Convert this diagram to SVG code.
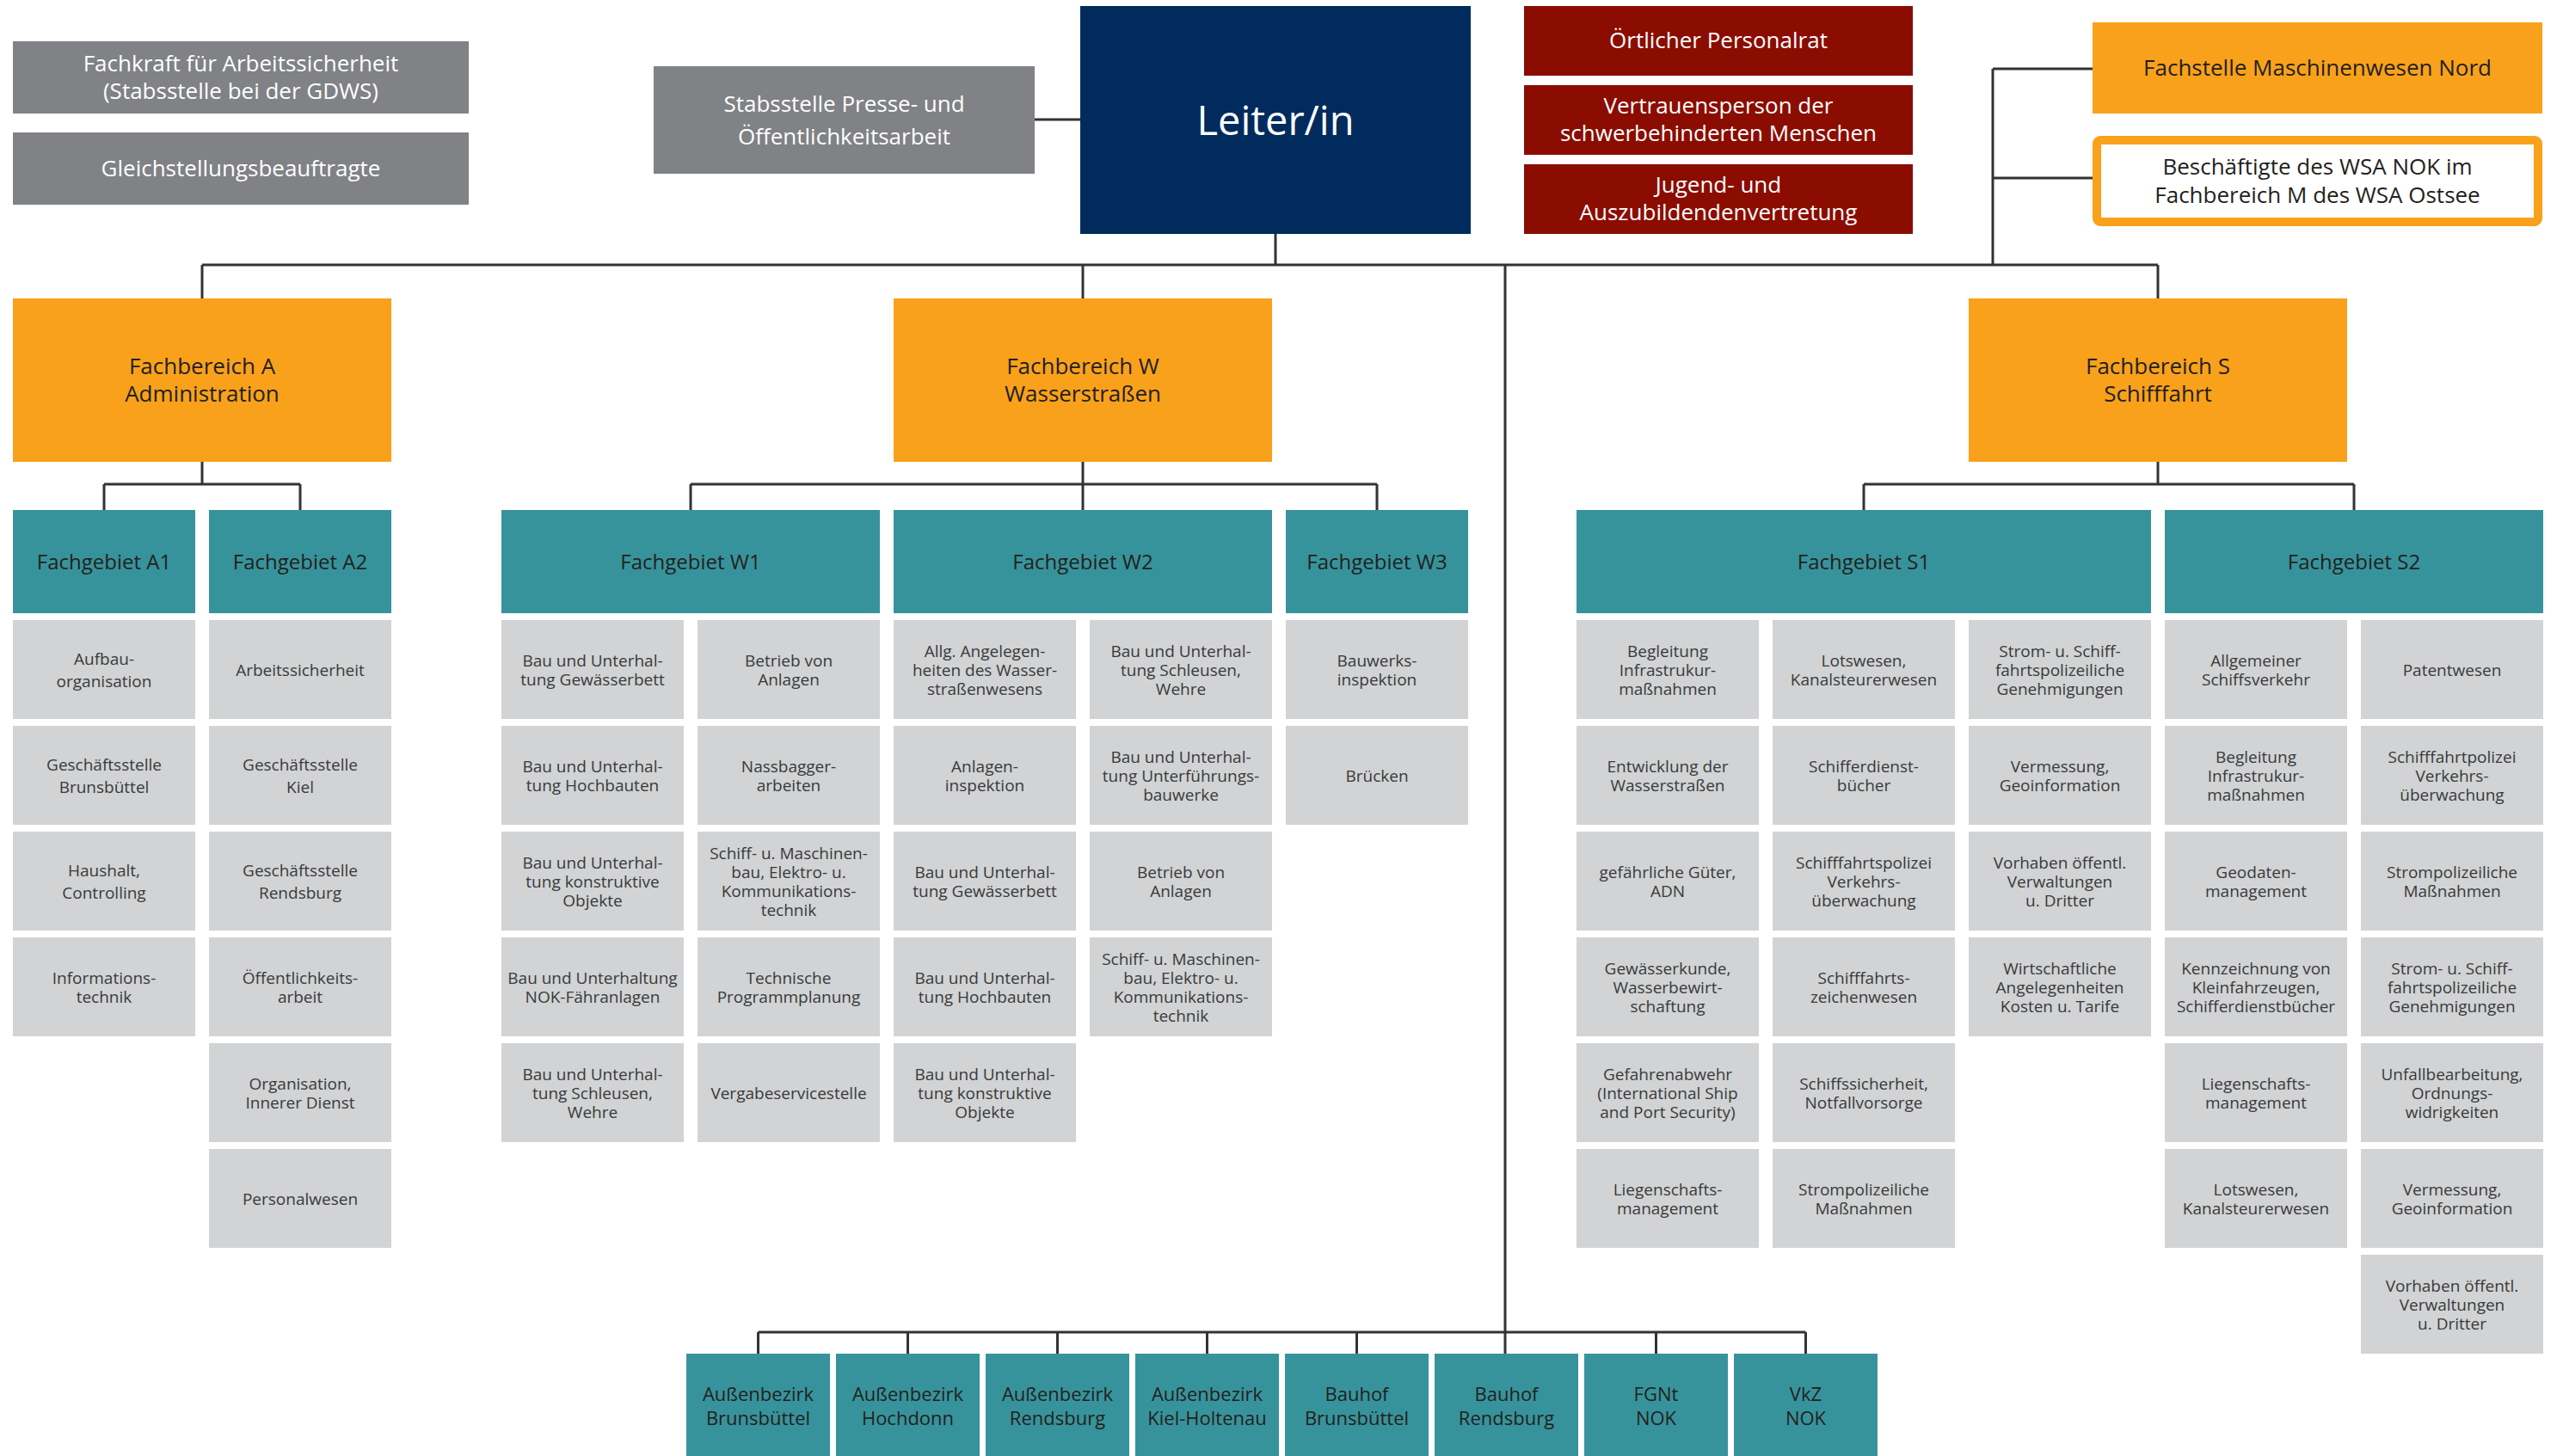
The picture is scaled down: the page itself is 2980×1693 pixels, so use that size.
<svg xmlns="http://www.w3.org/2000/svg" width="2980" height="1693" viewBox="0 0 2980 1693">
<style>
.gr{fill:#808285}.lead{fill:#012b5c}.red{fill:#8b0d02}.or{fill:#f9a11b}.teal{fill:#37939b}.it{fill:#d1d3d4}
.conn line{stroke:#333;stroke-width:3;fill:none}
text{font-family:"Open Sans","Noto Sans","Liberation Sans",sans-serif;text-anchor:middle}
.tw{fill:#fff;font-size:26px}.tl{fill:#fff;font-size:47px}.td{fill:#231f20;font-size:26px}
.th{fill:#231f20;font-size:24px}.ti{fill:#3a3a3a;font-size:19px}.tb{fill:#231f20;font-size:22px}
</style>
<rect width="2980" height="1693" fill="#fff"/>
<g class="conn" id="connectors">
<line x1="1203" y1="139" x2="1256" y2="139"/>
<line x1="2317" y1="80" x2="2317" y2="308"/>
<line x1="2317" y1="80" x2="2433" y2="80"/>
<line x1="2317" y1="207" x2="2433" y2="207"/>
<line x1="1483" y1="272" x2="1483" y2="308"/>
<line x1="235" y1="308" x2="2509" y2="308"/>
<line x1="235" y1="308" x2="235" y2="347"/>
<line x1="1259" y1="308" x2="1259" y2="347"/>
<line x1="2509" y1="308" x2="2509" y2="347"/>
<line x1="1750" y1="308" x2="1750" y2="1574"/>
<line x1="235" y1="537" x2="235" y2="563"/>
<line x1="121" y1="563" x2="349" y2="563"/>
<line x1="121" y1="563" x2="121" y2="593"/>
<line x1="349" y1="563" x2="349" y2="593"/>
<line x1="1259" y1="537" x2="1259" y2="593"/>
<line x1="803" y1="563" x2="1601" y2="563"/>
<line x1="803" y1="563" x2="803" y2="593"/>
<line x1="1601" y1="563" x2="1601" y2="593"/>
<line x1="2509" y1="537" x2="2509" y2="563"/>
<line x1="2167" y1="563" x2="2737" y2="563"/>
<line x1="2167" y1="563" x2="2167" y2="593"/>
<line x1="2737" y1="563" x2="2737" y2="593"/>
<line x1="881.5" y1="1549" x2="2099.5" y2="1549"/>
<line x1="881.5" y1="1549" x2="881.5" y2="1574"/>
<line x1="1055.5" y1="1549" x2="1055.5" y2="1574"/>
<line x1="1229.5" y1="1549" x2="1229.5" y2="1574"/>
<line x1="1403.5" y1="1549" x2="1403.5" y2="1574"/>
<line x1="1577.5" y1="1549" x2="1577.5" y2="1574"/>
<line x1="1925.5" y1="1549" x2="1925.5" y2="1574"/>
<line x1="2099.5" y1="1549" x2="2099.5" y2="1574"/>
</g>
<g id="fachkraft"><rect class="gr" x="15" y="48" width="530" height="84"/><text class="tw" x="280" y="83">Fachkraft für Arbeitssicherheit<tspan x="280" dy="32">(Stabsstelle bei der GDWS)</tspan></text></g>
<g id="gleichstellung"><rect class="gr" x="15" y="154" width="530" height="84"/><text class="tw" x="280" y="205">Gleichstellungsbeauftragte</text></g>
<g id="presse"><rect class="gr" x="760" y="77" width="443" height="125"/><text class="tw" x="981.5" y="130">Stabsstelle Presse- und<tspan x="981.5" dy="38">Öffentlichkeitsarbeit</tspan></text></g>
<g id="leiter"><rect class="lead" x="1256" y="7" width="454" height="265"/><text class="tl" x="1483" y="157">Leiter/in</text></g>
<g id="personalrat"><rect class="red" x="1772" y="7" width="452" height="81"/><text class="tw" x="1998" y="56">Örtlicher Personalrat</text></g>
<g id="vertrauensperson"><rect class="red" x="1772" y="99" width="452" height="81"/><text class="tw" x="1998" y="132">Vertrauensperson der<tspan x="1998" dy="32">schwerbehinderten Menschen</tspan></text></g>
<g id="jav"><rect class="red" x="1772" y="191" width="452" height="81"/><text class="tw" x="1998" y="224">Jugend- und<tspan x="1998" dy="32">Auszubildendenvertretung</tspan></text></g>
<g id="fachstelle"><rect class="or" x="2433" y="26" width="523" height="106"/><text class="td" x="2694.5" y="88">Fachstelle Maschinenwesen Nord</text></g>
<g id="beschaeftigte"><rect x="2438" y="163" width="513" height="95" rx="4" fill="#fff" stroke="#f9a11b" stroke-width="10"/><text class="td" x="2694.5" y="203">Beschäftigte des WSA NOK im<tspan x="2694.5" dy="33">Fachbereich M des WSA Ostsee</tspan></text></g>
<g id="fb-a"><rect class="or" x="15" y="347" width="440" height="190"/><text class="td" x="235" y="435">Fachbereich A<tspan x="235" dy="32">Administration</tspan></text></g>
<g id="fb-w"><rect class="or" x="1039" y="347" width="440" height="190"/><text class="td" x="1259" y="435">Fachbereich W<tspan x="1259" dy="32">Wasserstraßen</tspan></text></g>
<g id="fb-s"><rect class="or" x="2289" y="347" width="440" height="190"/><text class="td" x="2509" y="435">Fachbereich S<tspan x="2509" dy="32">Schifffahrt</tspan></text></g>
<g id="fg-a1"><rect class="teal" x="15" y="593" width="212" height="120"/><text class="th" x="121" y="662">Fachgebiet A1</text></g>
<g id="fg-a2"><rect class="teal" x="243" y="593" width="212" height="120"/><text class="th" x="349" y="662">Fachgebiet A2</text></g>
<g id="fg-w1"><rect class="teal" x="583" y="593" width="440" height="120"/><text class="th" x="803" y="662">Fachgebiet W1</text></g>
<g id="fg-w2"><rect class="teal" x="1039" y="593" width="440" height="120"/><text class="th" x="1259" y="662">Fachgebiet W2</text></g>
<g id="fg-w3"><rect class="teal" x="1495" y="593" width="212" height="120"/><text class="th" x="1601" y="662">Fachgebiet W3</text></g>
<g id="fg-s1"><rect class="teal" x="1833" y="593" width="668" height="120"/><text class="th" x="2167" y="662">Fachgebiet S1</text></g>
<g id="fg-s2"><rect class="teal" x="2517" y="593" width="440" height="120"/><text class="th" x="2737" y="662">Fachgebiet S2</text></g>
<!-- A1 -->
<g id="a1-1"><rect class="it" x="15" y="721" width="212" height="115"/><text class="ti" x="121" y="772.5">Aufbau-<tspan x="121" dy="26">organisation</tspan></text></g>
<g id="a1-2"><rect class="it" x="15" y="844" width="212" height="115"/><text class="ti" x="121" y="895.5">Geschäftsstelle<tspan x="121" dy="26">Brunsbüttel</tspan></text></g>
<g id="a1-3"><rect class="it" x="15" y="967" width="212" height="115"/><text class="ti" x="121" y="1018.5">Haushalt,<tspan x="121" dy="26">Controlling</tspan></text></g>
<g id="a1-4"><rect class="it" x="15" y="1090" width="212" height="115"/><text class="ti" x="121" y="1143.5">Informations-<tspan x="121" dy="22">technik</tspan></text></g>
<!-- A2 -->
<g id="a2-1"><rect class="it" x="243" y="721" width="212" height="115"/><text class="ti" x="349" y="785.5">Arbeitssicherheit</text></g>
<g id="a2-2"><rect class="it" x="243" y="844" width="212" height="115"/><text class="ti" x="349" y="895.5">Geschäftsstelle<tspan x="349" dy="26">Kiel</tspan></text></g>
<g id="a2-3"><rect class="it" x="243" y="967" width="212" height="115"/><text class="ti" x="349" y="1018.5">Geschäftsstelle<tspan x="349" dy="26">Rendsburg</tspan></text></g>
<g id="a2-4"><rect class="it" x="243" y="1090" width="212" height="115"/><text class="ti" x="349" y="1143.5">Öffentlichkeits-<tspan x="349" dy="22">arbeit</tspan></text></g>
<g id="a2-5"><rect class="it" x="243" y="1213" width="212" height="115"/><text class="ti" x="349" y="1266.5">Organisation,<tspan x="349" dy="22">Innerer Dienst</tspan></text></g>
<g id="a2-6"><rect class="it" x="243" y="1336" width="212" height="115"/><text class="ti" x="349" y="1400.5">Personalwesen</text></g>
<!-- W1 col1 -->
<g id="w1-1"><rect class="it" x="583" y="721" width="212" height="115"/><text class="ti" x="689" y="774.5">Bau und Unterhal-<tspan x="689" dy="22">tung Gewässerbett</tspan></text></g>
<g id="w1-2"><rect class="it" x="583" y="844" width="212" height="115"/><text class="ti" x="689" y="897.5">Bau und Unterhal-<tspan x="689" dy="22">tung Hochbauten</tspan></text></g>
<g id="w1-3"><rect class="it" x="583" y="967" width="212" height="115"/><text class="ti" x="689" y="1009.5">Bau und Unterhal-<tspan x="689" dy="22">tung konstruktive</tspan><tspan x="689" dy="22">Objekte</tspan></text></g>
<g id="w1-4"><rect class="it" x="583" y="1090" width="212" height="115"/><text class="ti" x="689" y="1143.5">Bau und Unterhaltung<tspan x="689" dy="22">NOK-Fähranlagen</tspan></text></g>
<g id="w1-5"><rect class="it" x="583" y="1213" width="212" height="115"/><text class="ti" x="689" y="1255.5">Bau und Unterhal-<tspan x="689" dy="22">tung Schleusen,</tspan><tspan x="689" dy="22">Wehre</tspan></text></g>
<!-- W1 col2 -->
<g id="w1-6"><rect class="it" x="811" y="721" width="212" height="115"/><text class="ti" x="917" y="774.5">Betrieb von<tspan x="917" dy="22">Anlagen</tspan></text></g>
<g id="w1-7"><rect class="it" x="811" y="844" width="212" height="115"/><text class="ti" x="917" y="897.5">Nassbagger-<tspan x="917" dy="22">arbeiten</tspan></text></g>
<g id="w1-8"><rect class="it" x="811" y="967" width="212" height="115"/><text class="ti" x="917" y="998.5">Schiff- u. Maschinen-<tspan x="917" dy="22">bau, Elektro- u.</tspan><tspan x="917" dy="22">Kommunikations-</tspan><tspan x="917" dy="22">technik</tspan></text></g>
<g id="w1-9"><rect class="it" x="811" y="1090" width="212" height="115"/><text class="ti" x="917" y="1143.5">Technische<tspan x="917" dy="22">Programmplanung</tspan></text></g>
<g id="w1-10"><rect class="it" x="811" y="1213" width="212" height="115"/><text class="ti" x="917" y="1277.5">Vergabeservicestelle</text></g>
<!-- W2 col1 -->
<g id="w2-1"><rect class="it" x="1039" y="721" width="212" height="115"/><text class="ti" x="1145" y="763.5">Allg. Angelegen-<tspan x="1145" dy="22">heiten des Wasser-</tspan><tspan x="1145" dy="22">straßenwesens</tspan></text></g>
<g id="w2-2"><rect class="it" x="1039" y="844" width="212" height="115"/><text class="ti" x="1145" y="897.5">Anlagen-<tspan x="1145" dy="22">inspektion</tspan></text></g>
<g id="w2-3"><rect class="it" x="1039" y="967" width="212" height="115"/><text class="ti" x="1145" y="1020.5">Bau und Unterhal-<tspan x="1145" dy="22">tung Gewässerbett</tspan></text></g>
<g id="w2-4"><rect class="it" x="1039" y="1090" width="212" height="115"/><text class="ti" x="1145" y="1143.5">Bau und Unterhal-<tspan x="1145" dy="22">tung Hochbauten</tspan></text></g>
<g id="w2-5"><rect class="it" x="1039" y="1213" width="212" height="115"/><text class="ti" x="1145" y="1255.5">Bau und Unterhal-<tspan x="1145" dy="22">tung konstruktive</tspan><tspan x="1145" dy="22">Objekte</tspan></text></g>
<!-- W2 col2 -->
<g id="w2-6"><rect class="it" x="1267" y="721" width="212" height="115"/><text class="ti" x="1373" y="763.5">Bau und Unterhal-<tspan x="1373" dy="22">tung Schleusen,</tspan><tspan x="1373" dy="22">Wehre</tspan></text></g>
<g id="w2-7"><rect class="it" x="1267" y="844" width="212" height="115"/><text class="ti" x="1373" y="886.5">Bau und Unterhal-<tspan x="1373" dy="22">tung Unterführungs-</tspan><tspan x="1373" dy="22">bauwerke</tspan></text></g>
<g id="w2-8"><rect class="it" x="1267" y="967" width="212" height="115"/><text class="ti" x="1373" y="1020.5">Betrieb von<tspan x="1373" dy="22">Anlagen</tspan></text></g>
<g id="w2-9"><rect class="it" x="1267" y="1090" width="212" height="115"/><text class="ti" x="1373" y="1121.5">Schiff- u. Maschinen-<tspan x="1373" dy="22">bau, Elektro- u.</tspan><tspan x="1373" dy="22">Kommunikations-</tspan><tspan x="1373" dy="22">technik</tspan></text></g>
<!-- W3 -->
<g id="w3-1"><rect class="it" x="1495" y="721" width="212" height="115"/><text class="ti" x="1601" y="774.5">Bauwerks-<tspan x="1601" dy="22">inspektion</tspan></text></g>
<g id="w3-2"><rect class="it" x="1495" y="844" width="212" height="115"/><text class="ti" x="1601" y="908.5">Brücken</text></g>
<!-- S1 col1 -->
<g id="s1-1"><rect class="it" x="1833" y="721" width="212" height="115"/><text class="ti" x="1939" y="763.5">Begleitung<tspan x="1939" dy="22">Infrastrukur-</tspan><tspan x="1939" dy="22">maßnahmen</tspan></text></g>
<g id="s1-2"><rect class="it" x="1833" y="844" width="212" height="115"/><text class="ti" x="1939" y="897.5">Entwicklung der<tspan x="1939" dy="22">Wasserstraßen</tspan></text></g>
<g id="s1-3"><rect class="it" x="1833" y="967" width="212" height="115"/><text class="ti" x="1939" y="1020.5">gefährliche Güter,<tspan x="1939" dy="22">ADN</tspan></text></g>
<g id="s1-4"><rect class="it" x="1833" y="1090" width="212" height="115"/><text class="ti" x="1939" y="1132.5">Gewässerkunde,<tspan x="1939" dy="22">Wasserbewirt-</tspan><tspan x="1939" dy="22">schaftung</tspan></text></g>
<g id="s1-5"><rect class="it" x="1833" y="1213" width="212" height="115"/><text class="ti" x="1939" y="1255.5">Gefahrenabwehr<tspan x="1939" dy="22">(International Ship</tspan><tspan x="1939" dy="22">and Port Security)</tspan></text></g>
<g id="s1-6"><rect class="it" x="1833" y="1336" width="212" height="115"/><text class="ti" x="1939" y="1389.5">Liegenschafts-<tspan x="1939" dy="22">management</tspan></text></g>
<!-- S1 col2 -->
<g id="s1-7"><rect class="it" x="2061" y="721" width="212" height="115"/><text class="ti" x="2167" y="774.5">Lotswesen,<tspan x="2167" dy="22">Kanalsteurerwesen</tspan></text></g>
<g id="s1-8"><rect class="it" x="2061" y="844" width="212" height="115"/><text class="ti" x="2167" y="897.5">Schifferdienst-<tspan x="2167" dy="22">bücher</tspan></text></g>
<g id="s1-9"><rect class="it" x="2061" y="967" width="212" height="115"/><text class="ti" x="2167" y="1009.5">Schifffahrtspolizei<tspan x="2167" dy="22">Verkehrs-</tspan><tspan x="2167" dy="22">überwachung</tspan></text></g>
<g id="s1-10"><rect class="it" x="2061" y="1090" width="212" height="115"/><text class="ti" x="2167" y="1143.5">Schifffahrts-<tspan x="2167" dy="22">zeichenwesen</tspan></text></g>
<g id="s1-11"><rect class="it" x="2061" y="1213" width="212" height="115"/><text class="ti" x="2167" y="1266.5">Schiffssicherheit,<tspan x="2167" dy="22">Notfallvorsorge</tspan></text></g>
<g id="s1-12"><rect class="it" x="2061" y="1336" width="212" height="115"/><text class="ti" x="2167" y="1389.5">Strompolizeiliche<tspan x="2167" dy="22">Maßnahmen</tspan></text></g>
<!-- S1 col3 -->
<g id="s1-13"><rect class="it" x="2289" y="721" width="212" height="115"/><text class="ti" x="2395" y="763.5">Strom- u. Schiff-<tspan x="2395" dy="22">fahrtspolizeiliche</tspan><tspan x="2395" dy="22">Genehmigungen</tspan></text></g>
<g id="s1-14"><rect class="it" x="2289" y="844" width="212" height="115"/><text class="ti" x="2395" y="897.5">Vermessung,<tspan x="2395" dy="22">Geoinformation</tspan></text></g>
<g id="s1-15"><rect class="it" x="2289" y="967" width="212" height="115"/><text class="ti" x="2395" y="1009.5">Vorhaben öffentl.<tspan x="2395" dy="22">Verwaltungen</tspan><tspan x="2395" dy="22">u. Dritter</tspan></text></g>
<g id="s1-16"><rect class="it" x="2289" y="1090" width="212" height="115"/><text class="ti" x="2395" y="1132.5">Wirtschaftliche<tspan x="2395" dy="22">Angelegenheiten</tspan><tspan x="2395" dy="22">Kosten u. Tarife</tspan></text></g>
<!-- S2 col1 -->
<g id="s2-1"><rect class="it" x="2517" y="721" width="212" height="115"/><text class="ti" x="2623" y="774.5">Allgemeiner<tspan x="2623" dy="22">Schiffsverkehr</tspan></text></g>
<g id="s2-2"><rect class="it" x="2517" y="844" width="212" height="115"/><text class="ti" x="2623" y="886.5">Begleitung<tspan x="2623" dy="22">Infrastrukur-</tspan><tspan x="2623" dy="22">maßnahmen</tspan></text></g>
<g id="s2-3"><rect class="it" x="2517" y="967" width="212" height="115"/><text class="ti" x="2623" y="1020.5">Geodaten-<tspan x="2623" dy="22">management</tspan></text></g>
<g id="s2-4"><rect class="it" x="2517" y="1090" width="212" height="115"/><text class="ti" x="2623" y="1132.5">Kennzeichnung von<tspan x="2623" dy="22">Kleinfahrzeugen,</tspan><tspan x="2623" dy="22">Schifferdienstbücher</tspan></text></g>
<g id="s2-5"><rect class="it" x="2517" y="1213" width="212" height="115"/><text class="ti" x="2623" y="1266.5">Liegenschafts-<tspan x="2623" dy="22">management</tspan></text></g>
<g id="s2-6"><rect class="it" x="2517" y="1336" width="212" height="115"/><text class="ti" x="2623" y="1389.5">Lotswesen,<tspan x="2623" dy="22">Kanalsteurerwesen</tspan></text></g>
<!-- S2 col2 -->
<g id="s2-7"><rect class="it" x="2745" y="721" width="212" height="115"/><text class="ti" x="2851" y="785.5">Patentwesen</text></g>
<g id="s2-8"><rect class="it" x="2745" y="844" width="212" height="115"/><text class="ti" x="2851" y="886.5">Schifffahrtpolizei<tspan x="2851" dy="22">Verkehrs-</tspan><tspan x="2851" dy="22">überwachung</tspan></text></g>
<g id="s2-9"><rect class="it" x="2745" y="967" width="212" height="115"/><text class="ti" x="2851" y="1020.5">Strompolizeiliche<tspan x="2851" dy="22">Maßnahmen</tspan></text></g>
<g id="s2-10"><rect class="it" x="2745" y="1090" width="212" height="115"/><text class="ti" x="2851" y="1132.5">Strom- u. Schiff-<tspan x="2851" dy="22">fahrtspolizeiliche</tspan><tspan x="2851" dy="22">Genehmigungen</tspan></text></g>
<g id="s2-11"><rect class="it" x="2745" y="1213" width="212" height="115"/><text class="ti" x="2851" y="1255.5">Unfallbearbeitung,<tspan x="2851" dy="22">Ordnungs-</tspan><tspan x="2851" dy="22">widrigkeiten</tspan></text></g>
<g id="s2-12"><rect class="it" x="2745" y="1336" width="212" height="115"/><text class="ti" x="2851" y="1389.5">Vermessung,<tspan x="2851" dy="22">Geoinformation</tspan></text></g>
<g id="s2-13"><rect class="it" x="2745" y="1459" width="212" height="115"/><text class="ti" x="2851" y="1501.5">Vorhaben öffentl.<tspan x="2851" dy="22">Verwaltungen</tspan><tspan x="2851" dy="22">u. Dritter</tspan></text></g>
<!-- bottom row -->
<g id="ab-brunsbuettel"><rect class="teal" x="798" y="1574" width="167" height="119"/><text class="tb" x="881.5" y="1629">Außenbezirk<tspan x="881.5" dy="28">Brunsbüttel</tspan></text></g>
<g id="ab-hochdonn"><rect class="teal" x="972" y="1574" width="167" height="119"/><text class="tb" x="1055.5" y="1629">Außenbezirk<tspan x="1055.5" dy="28">Hochdonn</tspan></text></g>
<g id="ab-rendsburg"><rect class="teal" x="1146" y="1574" width="167" height="119"/><text class="tb" x="1229.5" y="1629">Außenbezirk<tspan x="1229.5" dy="28">Rendsburg</tspan></text></g>
<g id="ab-kiel"><rect class="teal" x="1320" y="1574" width="167" height="119"/><text class="tb" x="1403.5" y="1629">Außenbezirk<tspan x="1403.5" dy="28">Kiel-Holtenau</tspan></text></g>
<g id="bh-brunsbuettel"><rect class="teal" x="1494" y="1574" width="167" height="119"/><text class="tb" x="1577.5" y="1629">Bauhof<tspan x="1577.5" dy="28">Brunsbüttel</tspan></text></g>
<g id="bh-rendsburg"><rect class="teal" x="1668" y="1574" width="167" height="119"/><text class="tb" x="1751.5" y="1629">Bauhof<tspan x="1751.5" dy="28">Rendsburg</tspan></text></g>
<g id="fgnt"><rect class="teal" x="1842" y="1574" width="167" height="119"/><text class="tb" x="1925.5" y="1629">FGNt<tspan x="1925.5" dy="28">NOK</tspan></text></g>
<g id="vkz"><rect class="teal" x="2016" y="1574" width="167" height="119"/><text class="tb" x="2099.5" y="1629">VkZ<tspan x="2099.5" dy="28">NOK</tspan></text></g>
</svg>
